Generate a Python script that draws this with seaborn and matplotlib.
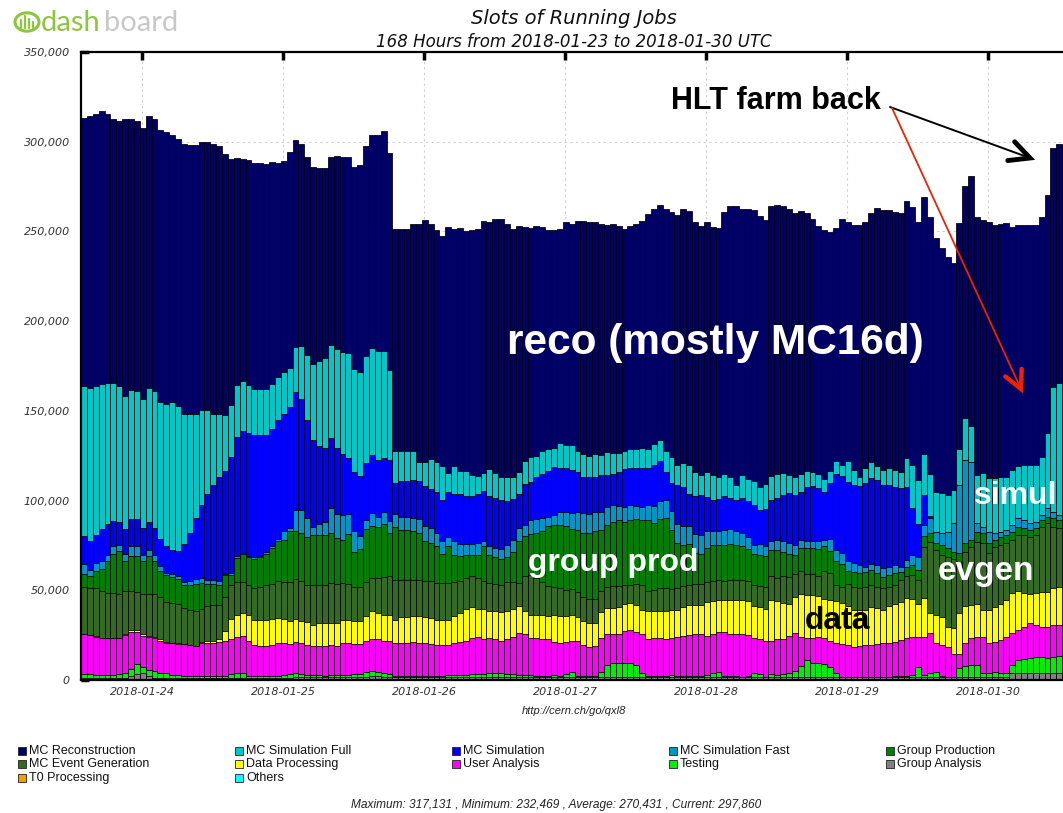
import numpy as np
import pandas as pd
import matplotlib
matplotlib.use("Agg")
import matplotlib.pyplot as plt
import seaborn as sns
from matplotlib.patches import Rectangle, Circle
from matplotlib.lines import Line2D

# ---------------- data (thousands of slots; stack tops) ----------------
hours = list(range(168))
day_labels = ["2018-01-24", "2018-01-25", "2018-01-26", "2018-01-27",
              "2018-01-28", "2018-01-29", "2018-01-30"]
day_tick_pos = [9.9, 33.9, 57.9, 81.9, 105.9, 129.9, 153.9]

# top of MC Reconstruction (= total running slots)
top_reco = [
    313.1,314.1,315.2,317.1,315.2,312.5,311.6,312.5,312.5,311.6,307.9,314.5,312.5,306.4,305.4,303.8,301.7,299.0,297.9,298.1,299.6,300.0,299.0,297.5,293.4,290.3,290.9,290.3,
    289.6,288.2,288.2,287.6,288.8,288.2,289.2,294.4,301.2,299.0,291.7,286.1,285.1,285.1,291.3,292.3,291.7,291.3,286.1,287.1,297.5,303.8,303.8,305.8,293.8,251.5,251.5,251.5,
    254.4,254.4,256.4,253.9,250.8,247.7,252.3,251.5,251.9,250.2,250.8,251.5,255.6,255.0,257.1,257.1,253.9,251.5,252.9,252.3,251.9,252.9,252.3,250.8,250.8,251.5,255.0,254.4,
    255.6,255.6,255.4,255.0,253.9,253.5,254.4,252.9,251.5,252.9,253.9,256.0,259.8,262.3,264.7,262.7,260.6,259.1,262.3,261.2,255.0,252.9,255.0,252.5,251.9,260.6,264.3,263.9,
    262.3,262.3,261.8,258.5,256.4,264.3,264.7,264.3,262.7,260.2,261.2,260.2,257.1,252.9,250.8,249.8,251.9,257.1,255.0,
    253.6,253.6,255.0,260.5,262.9,262.0,262.0,261.0,260.0,267.0,263.5,255.5,269.4,258.3,246.2,240.6,236.0,232.5,254.9,275.4,280.9,258.3,256.4,255.5,253.6,254.2,254.5,252.7,253.6,253.6,253.6,253.6,257.9,270.3,296.4,298.8,297.9]

top_simfull = [
    163.7,162.7,163.7,164.7,165.8,165.8,163.7,158.5,161.6,161.0,156.8,162.7,161.0,154.8,153.9,154.8,152.7,148.1,148.1,148.1,150.2,150.2,148.5,148.5,147.7,153.3,164.3,166.4,
    164.3,162.2,162.2,162.2,164.7,168.9,171.4,174.1,185.5,185.9,181.3,176.1,177.6,179.3,186.5,184.4,182.8,182.2,173.4,171.4,180.3,185.1,183.4,183.4,173.0,127.4,127.4,127.4,
    127.8,121.6,121.6,123.2,121.6,119.1,115.3,119.1,116.6,116.6,114.5,113.9,115.3,117.8,115.3,112.9,112.9,113.3,116.0,122.2,124.3,124.9,127.4,129.0,129.5,131.9,131.1,131.1,
    127.8,125.7,124.9,125.7,125.3,126.9,126.3,126.3,127.8,129.0,129.0,129.5,129.0,131.5,133.6,127.4,124.3,120.1,121.2,120.1,116.0,114.5,116.0,114.5,112.9,114.9,112.9,108.7,
    114.5,111.8,110.8,107.7,109.1,113.9,114.9,115.3,114.5,113.3,114.9,116.6,116.0,114.9,111.8,116.6,122.2,120.1,122.2,
    117.0,113.3,118.0,121.7,119.5,117.0,118.0,117.0,116.0,123.5,119.8,111.5,126.0,115.0,105.0,104.0,103.0,105.8,129.0,145.8,141.6,114.3,115.3,112.5,112.5,113.3,113.3,117.0,119.5,119.8,119.8,119.8,124.5,137.8,163.5,165.4,166.0]

top_sim = [
    80.1,77.6,80.7,84.2,86.9,88.4,87.9,84.2,90.0,90.0,84.8,87.9,84.8,78.6,74.5,72.4,71.8,75.9,82.1,90.4,97.3,103.5,108.7,113.3,116.4,124.3,135.3,138.8,
    137.8,136.7,136.7,136.7,139.8,145.0,148.5,151.9,160.6,156.8,145.0,134.0,130.5,129.5,135.1,129.5,125.7,123.6,116.0,113.9,121.2,125.3,122.8,123.6,122.8,109.7,110.7,110.7,
    111.2,110.8,108.3,106.6,105.0,100.4,105.0,103.5,103.5,102.5,102.5,103.5,105.6,102.5,101.4,100.4,100.0,100.8,103.5,109.1,110.4,113.3,114.9,116.6,118.7,118.0,118.0,117.0,
    116.0,113.3,112.9,113.3,114.5,114.5,114.9,116.0,117.4,118.0,118.0,118.0,118.0,120.1,122.2,116.0,109.7,108.7,107.7,103.5,102.5,102.9,102.1,100.4,100.8,102.5,101.4,100.4,
    101.4,100.0,97.3,94.6,95.2,100.4,101.4,102.9,104.1,102.9,104.5,107.7,108.3,107.0,104.5,109.7,114.9,113.9,110.4,
    108.7,108.0,109.6,112.4,111.5,108.7,108.7,107.8,106.9,107.8,95.7,87.0,103.1,91.4,82.7,81.8,82.7,87.3,108.7,122.6,121.7,87.3,85.4,82.7,81.8,82.7,83.6,86.4,90.1,89.2,87.3,88.2,92.0,95.7,93.8,92.0,92.0]

top_simfast = [
    64.7,61.4,65.1,66.2,69.7,74.9,75.5,70.3,74.9,74.5,69.7,72.4,69.7,63.5,59.9,58.9,57.9,54.7,55.2,56.4,56.8,55.8,55.8,55.2,59.3,59.9,68.9,70.9,
    68.9,68.3,68.9,71.4,74.5,78.6,82.8,84.8,94.6,94.6,90.4,85.5,86.9,88.0,95.6,92.5,92.1,92.5,82.8,80.1,89.0,93.1,91.1,93.8,88.4,92.5,90.6,90.6,
    90.4,89.6,85.9,84.8,82.1,77.6,79.7,77.6,75.9,75.9,75.9,76.5,77.6,74.5,73.4,73.0,75.5,78.0,84.8,86.3,89.0,90.0,90.4,91.1,92.1,93.8,93.8,93.1,
    93.8,93.1,92.5,93.8,93.8,96.3,97.3,96.7,96.3,97.3,96.7,96.3,97.3,96.7,100.0,100.4,94.2,86.9,85.9,85.9,81.3,80.7,82.8,82.8,82.8,83.4,84.2,82.8,
    81.7,79.7,75.5,75.9,74.5,77.2,78.0,77.6,76.5,75.5,78.0,77.6,77.6,77.2,78.0,78.6,72.4,70.9,66.2,
    65.4,64.1,63.2,64.9,64.1,62.2,63.2,64.1,63.2,66.9,69.7,68.8,86.4,90.1,82.7,81.8,82.7,87.3,108.7,122.6,121.7,87.3,85.4,82.7,81.8,82.7,83.6,86.4,90.1,89.2,87.3,88.2,92.0,95.7,93.8,92.0,92.0]

top_groupprod = [
    59.3,57.9,61.0,62.0,66.2,70.3,71.8,66.2,69.3,69.3,66.2,69.3,66.2,61.0,58.5,57.2,56.4,52.7,53.1,53.7,54.3,53.7,53.7,53.1,58.5,58.5,68.2,70.3,
    68.3,67.6,68.3,70.5,73.5,77.5,78.0,82.8,82.8,82.1,79.7,80.7,80.7,80.7,81.7,79.2,78.0,81.3,71.4,73.0,84.2,85.9,85.5,86.9,82.1,85.5,83.4,83.4,
    82.8,82.1,77.6,76.5,74.5,70.3,74.5,69.7,69.3,69.7,69.7,69.7,74.5,69.7,68.3,67.2,68.3,71.4,77.6,80.1,81.3,82.1,82.8,85.9,86.3,86.3,85.9,84.2,
    83.8,82.1,81.7,82.8,83.4,86.3,88.0,89.0,88.0,89.0,89.6,89.0,89.0,87.5,90.0,90.4,83.8,76.5,75.5,75.9,70.9,70.3,73.4,75.5,75.5,75.5,75.9,75.5,
    74.5,73.0,70.3,69.7,69.3,72.4,72.4,71.4,70.3,69.7,73.4,73.8,73.4,73.0,74.5,71.8,66.2,64.7,61.0,
    60.4,59.4,60.4,61.3,59.4,57.6,58.5,59.4,60.4,63.2,64.1,61.3,80.0,81.8,76.2,75.3,73.4,71.5,70.6,76.2,78.0,82.7,81.8,76.2,78.0,79.9,80.8,82.7,85.4,84.5,83.6,84.5,89.4,91.0,90.1,89.2,88.3]

top_evgen = [
    51.6,51.0,51.0,49.6,48.5,48.5,47.9,49.6,49.6,49.0,48.1,48.1,47.9,46.5,43.3,42.7,42.3,40.2,39.2,38.6,39.8,41.3,41.7,41.7,46.5,52.7,54.8,54.8,
    53.1,51.0,51.6,52.7,53.7,55.2,54.8,54.8,56.4,55.2,53.1,52.7,52.7,53.1,54.3,53.7,54.3,53.7,51.6,51.6,54.8,56.8,56.8,57.2,57.9,55.8,55.8,55.8,
    55.8,55.8,55.2,55.2,54.3,54.3,54.3,54.8,55.2,56.8,57.9,56.8,55.2,54.3,53.7,52.7,54.8,54.8,54.3,57.9,58.5,56.8,54.8,52.3,51.6,51.0,50.2,50.6,
    48.9,46.0,45.4,45.4,49.6,51.6,52.3,52.3,52.7,53.1,53.7,52.7,49.6,50.2,51.0,51.0,50.6,51.0,52.3,53.1,53.7,53.7,54.8,55.2,55.8,55.2,55.8,55.8,
    55.8,55.2,52.7,52.3,51.6,57.9,56.8,57.9,57.2,58.9,60.6,59.3,59.3,57.9,61.0,59.9,52.7,51.6,53.7,
    52.1,51.1,52.1,53.0,52.1,51.1,52.1,53.0,55.7,58.0,58.5,56.0,74.3,77.1,72.5,69.7,68.8,67.3,66.0,71.5,74.3,77.1,76.2,70.6,74.3,75.3,76.2,78.0,80.8,80.8,79.9,80.8,85.4,87.3,85.4,84.5,83.6]

top_data = [
    25.7,25.3,24.7,23.6,23.2,23.2,23.2,25.7,27.8,27.8,25.7,24.7,24.0,22.6,21.1,20.5,20.5,19.9,19.5,19.1,21.1,21.6,21.6,22.6,27.2,34.0,36.5,37.1,
    36.1,33.6,33.6,33.6,34.0,34.4,34.0,33.0,34.0,33.0,32.3,30.9,31.5,31.5,31.9,31.5,33.6,33.6,33.0,33.0,35.7,38.2,37.1,36.5,36.5,33.6,35.0,35.0,
    35.7,35.7,35.0,34.4,33.6,33.6,33.6,35.7,37.1,39.8,40.6,39.8,39.8,38.6,38.2,37.7,38.6,39.8,41.3,38.6,36.5,36.5,36.1,35.7,36.5,35.7,35.7,36.5,
    35.0,33.0,31.9,31.9,37.7,40.2,40.2,40.6,42.3,42.7,41.9,39.2,38.2,38.6,38.6,38.2,39.2,39.2,40.6,41.9,41.9,41.9,43.3,44.0,44.4,44.4,44.4,44.8,
    44.4,44.0,41.3,40.6,39.8,44.4,44.0,42.7,42.3,46.5,48.1,47.5,47.5,46.9,45.4,44.4,44.0,42.7,41.3,
    39.2,39.0,39.0,40.9,40.0,39.2,41.2,42.4,43.6,45.5,44.9,42.4,45.5,37.5,36.2,35.3,29.4,28.8,37.2,41.2,41.8,42.4,39.0,39.2,40.5,42.4,44.6,48.3,49.8,48.3,47.9,48.3,49.2,49.2,51.1,52.0,52.4]

top_user = [
    25.7,25.3,24.0,23.2,23.2,23.2,23.2,25.3,26.7,26.5,24.7,24.0,23.6,22.0,20.5,20.5,20.3,19.9,19.5,19.1,20.5,20.5,20.5,21.1,21.6,22.6,24.0,24.7,
    21.6,19.5,19.1,19.1,19.5,20.5,20.5,19.9,21.1,20.5,19.5,19.1,19.1,19.1,19.5,19.1,20.5,20.5,19.9,19.9,21.6,22.6,22.6,22.0,22.0,20.5,20.5,20.5,
    21.1,20.5,20.5,19.9,19.5,19.5,19.5,20.5,21.1,22.0,23.6,24.0,22.6,23.2,22.6,22.0,22.6,24.0,26.1,25.7,23.6,23.2,22.6,22.6,21.1,20.5,21.1,21.6,
    22.0,19.5,18.4,19.1,23.6,25.7,25.7,25.7,27.4,27.8,26.7,25.7,22.6,23.2,23.2,22.6,23.6,24.0,24.7,25.3,25.7,25.7,24.7,25.7,26.7,26.7,25.7,25.7,
    25.7,25.3,23.6,22.6,22.0,22.0,22.6,22.6,24.7,26.1,24.0,23.2,23.6,24.0,23.2,22.0,20.5,19.9,19.5,
    18.6,18.9,19.5,19.5,20.1,20.4,20.4,21.4,22.3,23.2,24.1,23.8,24.1,26.0,20.4,19.5,18.6,14.5,14.5,20.4,23.2,23.8,23.8,20.4,21.4,22.3,24.1,26.0,27.9,29.7,31.6,30.7,29.7,29.4,30.7,30.7,30.7]

top_testing = [
    3.3,3.3,2.9,2.9,2.9,2.9,3.3,3.9,6.0,8.7,7.1,5.4,5.0,3.9,3.7,2.9,2.9,2.3,2.3,2.3,2.3,2.5,2.5,2.3,2.5,3.3,3.7,3.7,
    2.5,2.3,2.3,2.3,2.3,2.3,2.9,3.5,3.9,3.3,2.9,2.7,2.7,2.5,2.7,2.7,2.7,2.7,3.1,3.5,4.5,5.0,4.2,3.7,3.3,2.5,2.5,2.5,
    2.5,2.5,2.3,2.3,2.3,2.5,2.7,2.7,2.7,2.9,3.3,3.5,3.5,3.7,3.9,3.9,3.5,3.3,2.9,2.9,2.7,2.5,2.5,2.5,2.7,2.5,3.3,4.5,
    2.3,2.5,2.5,2.5,4.5,8.1,9.5,9.5,9.5,9.5,8.1,4.0,2.5,2.5,2.5,2.5,2.9,2.5,2.3,2.3,2.3,2.3,2.9,3.7,4.5,2.5,2.3,2.3,
    1.8,2.5,3.9,3.3,1.8,3.3,2.9,3.3,3.9,5.0,8.0,11.2,9.5,9.5,9.1,7.0,3.9,1.8,1.8,
    1.8,1.8,1.8,1.8,1.8,1.8,1.8,2.2,2.2,2.2,2.8,7.4,2.8,3.7,4.6,2.2,1.8,1.8,6.5,7.8,8.4,8.4,3.7,4.1,4.6,3.7,4.1,8.4,11.1,11.5,12.1,12.6,13.0,12.1,13.0,13.4,13.0]

top_groupana = [
    1.0,1.0,1.0,1.0,1.0,1.0,1.0,1.2,2.2,3.6,3.8,2.0,1.2,1.0,1.0,1.0,1.0,1.0,1.0,1.0,1.0,1.0,1.0,1.0,1.0,1.0,1.0,1.0,
    1.0,1.0,1.0,1.0,1.0,1.0,1.0,1.0,1.6,1.6,1.6,1.6,1.6,1.6,1.6,1.6,1.6,1.6,1.6,1.6,1.6,2.4,2.4,1.6,1.6,1.6,1.6,1.6,
    1.6,1.6,1.6,1.6,1.6,1.6,1.6,1.6,1.6,1.6,1.6,1.6,1.6,1.6,1.6,1.6,1.6,1.6,1.6,1.6,1.6,1.6,1.6,1.6,1.6,1.6,1.6,1.6,
    1.5,1.5,1.5,1.5,1.5,1.5,1.5,1.5,1.5,1.5,1.5,1.5,1.5,1.5,1.5,1.5,1.5,1.5,1.5,1.5,1.5,1.5,1.5,1.5,1.5,1.5,1.5,1.5,
    1.5,1.5,1.5,1.5,1.5,1.5,1.5,1.5,1.5,1.5,1.5,1.5,1.5,1.5,1.5,1.5,1.5,1.5,1.5,
    1.4,1.4,1.4,1.4,1.4,1.4,1.4,1.4,1.4,1.4,1.4,1.4,1.4,1.4,1.4,1.4,1.4,1.4,1.4,1.4,1.4,1.4,1.4,1.4,1.4,1.4,1.4,3.8,3.8,3.8,3.8,3.8,3.8,3.8,3.8,3.8,3.8]

top_t0 = [
    0.6,0.6,0.6,0.6,0.6,0.6,0.6,0.6,0.6,0.6,0.6,0.6,0.6,0.6,0.6,0.6,0.6,0.6,0.6,0.6,0.6,0.6,0.6,0.6,0.6,0.6,0.6,0.6,
    0.6,0.6,0.6,0.6,0.6,0.6,0.6,0.6,0.6,0.6,0.6,0.6,0.6,0.6,0.6,0.6,0.6,0.6,0.6,0.6,0.6,0.6,0.6,0.6,0.6,0.6,0.6,0.6,
    0.4,0.4,0.4,0.4,0.4,0.4,0.4,0.4,0.4,0.4,0.4,0.4,0.4,0.4,0.4,0.4,0.4,0.4,0.4,0.4,0.4,0.4,0.4,0.4,0.4,0.4,0.4,0.4,
    0.3,0.3,0.3,0.3,0.3,0.3,0.3,0.3,0.3,0.3,0.3,0.3,0.3,0.3,0.3,0.3,0.3,0.3,0.3,0.3,0.3,0.3,0.3,0.3,0.3,0.3,0.3,0.3,
    0.3,0.3,0.3,0.3,0.3,0.3,0.3,0.3,0.3,0.3,0.3,0.3,0.3,0.3,0.3,0.3,0.3,0.3,0.3,
    0.3,0.3,0.3,0.3,0.3,0.3,0.3,0.3,0.3,0.3,0.3,0.3,0.3,0.3,0.3,0.3,0.3,0.3,0.3,0.3,0.3,0.3,0.3,0.3,0.3,0.3,0.3,0.3,0.3,0.3,0.3,0.3,0.3,0.3,0.3,0.3,0.3]

legend_names = ["MC Reconstruction", "MC Simulation Full", "MC Simulation", "MC Simulation Fast",
                "Group Production", "MC Event Generation", "Data Processing", "User Analysis",
                "Testing", "Group Analysis", "T0 Processing", "Others"]
legend_colors = ["#000066", "#00C8C8", "#0000FF", "#0096C8", "#007F00", "#336B22",
                 "#FFFF00", "#FF00FF", "#00EE00", "#808080", "#F0A000", "#00FFFF"]

# ---------------- figure ----------------
sns.set_style("white")
plt.rcParams['font.family'] = ['DejaVu Sans']

W, H = 1063, 813
fig = plt.figure(figsize=(W / 100, H / 100), dpi=100)
ax = fig.add_axes([81 / W, 1 - 680 / H, (1068 - 81) / W, 628 / H])


def fx(x):
    return x / W


def fy(y):
    return 1 - y / H


stack = [
    (top_reco, "#000066"),
    (top_simfull, "#00C8C8"),
    (top_sim, "#0000FF"),
    (top_simfast, "#0096C8"),
    (top_groupprod, "#007F00"),
    (top_evgen, "#336B22"),
    (top_data, "#FFFF00"),
    (top_user, "#FF00FF"),
    (top_testing, "#00EE00"),
    (top_groupana, "#808080"),
    (top_t0, "#C08000"),
]
for vals, col in stack:
    df = pd.DataFrame({"hour": hours, "slots": vals})
    sns.barplot(data=df, x="hour", y="slots", color=col, saturation=1, width=1.0,
                edgecolor="black", linewidth=0.55, errorbar=None, ax=ax, zorder=2)

ax.set_xlim(-0.5, 167.5)
ax.set_ylim(0, 350)
ax.set_xlabel("")
ax.set_ylabel("")

# grid
ax.set_axisbelow(True)
for yv in range(50, 350, 50):
    ax.axhline(yv, color="#cfcfcf", linestyle=(0, (2, 3)), linewidth=0.8, zorder=0)
for xv in day_tick_pos:
    ax.axvline(xv, color="#cfcfcf", linestyle=(0, (2, 3)), linewidth=0.8, zorder=0)

# ticks
ax.set_yticks(list(range(0, 351, 50)))
ax.set_yticklabels([f"{v * 1000:,}" for v in range(0, 351, 50)])
ax.set_xticks(day_tick_pos)
ax.set_xticklabels(day_labels)
ax.tick_params(axis="y", direction="in", length=6, width=2.5, color="black",
               labelsize=8, pad=8, labelcolor="#333333", left=True)
ax.tick_params(axis="x", direction="in", length=6, width=2.5, color="black",
               labelsize=8, pad=5, labelcolor="#333333", top=True, bottom=True)
for t in ax.get_xticklabels() + ax.get_yticklabels():
    t.set_fontstyle("italic")

for side in ["left", "top", "bottom"]:
    ax.spines[side].set_visible(True)
    ax.spines[side].set_color("black")
    ax.spines[side].set_linewidth(1.6)
ax.spines["right"].set_visible(False)

narrow = ["Liberation Sans", "DejaVu Sans"]

# titles
fig.text(fx(574), fy(18), "Slots of Running Jobs", ha="center", va="center",
         fontsize=14, fontstyle="italic", color="#111111")
fig.text(fx(574), fy(42), "168 Hours from 2018-01-23 to 2018-01-30 UTC", ha="center",
         va="center", fontsize=12, fontstyle="italic", color="#111111")
fig.text(fx(574), fy(711), "http://cern.ch/go/qxl8", ha="center", va="center",
         fontsize=8, fontstyle="italic", color="#222222", family=narrow)

# legend
col_x = [18, 235, 452, 669, 886]
row_y = [750.5, 764.3, 778.3]
for i, (name, col) in enumerate(zip(legend_names, legend_colors)):
    r, c = divmod(i, 5)
    x0, y0 = col_x[c], row_y[r]
    fig.patches.append(Rectangle((fx(x0), fy(y0 + 4)), 7.5 / W, 8 / H, transform=fig.transFigure,
                                 facecolor=col, edgecolor="#222222", linewidth=0.6))
    fig.text(fx(x0 + 11), fy(y0), name, ha="left", va="center", fontsize=9,
             color="#111111", family=narrow)

fig.text(fx(556), fy(805),
         "Maximum: 317,131 , Minimum: 232,469 , Average: 270,431 , Current: 297,860",
         ha="center", va="center", fontsize=8.6, fontstyle="italic", color="#222222",
         family=narrow)

# logo
fig.patches.append(Circle((fx(27), fy(22)), 12 / W, transform=fig.transFigure,
                          facecolor="none", edgecolor="#8CC63E", linewidth=2.2))
for bx, bh in [(21, 8), (25, 12), (29, 9), (33, 6)]:
    fig.add_artist(Line2D([fx(bx), fx(bx)], [fy(28), fy(28 - bh)], color="#8CC63E",
                          linewidth=1.6, transform=fig.transFigure))
fig.text(fx(41), fy(23), "dash", ha="left", va="center", fontsize=21, color="#8CC63E",
         family=["Lato", "DejaVu Sans"])
fig.text(fx(104), fy(23), "board", ha="left", va="center", fontsize=21, color="#C8C8C8",
         family=["Lato", "DejaVu Sans"])

# annotations
bold = ["Liberation Sans", "DejaVu Sans"]
fig.text(fx(776), fy(101), "HLT farm back", ha="center", va="center", fontsize=22,
         fontweight="bold", color="black", family=bold)
fig.text(fx(715), fy(343), "reco (mostly MC16d)", ha="center", va="center", fontsize=30.5,
         fontweight="bold", color="white", family=bold)
fig.text(fx(613), fy(563), "group prod", ha="center", va="center", fontsize=23,
         fontweight="bold", color="white", family=bold)
fig.text(fx(1016), fy(496), "simul", ha="center", va="center", fontsize=23,
         fontweight="bold", color="white", family=bold)
fig.text(fx(986), fy(571), "evgen", ha="center", va="center", fontsize=24,
         fontweight="bold", color="white", family=bold)
fig.text(fx(837), fy(621), "data", ha="center", va="center", fontsize=23,
         fontweight="bold", color="black", family=bold)


def arrow(p0, p1, color, lw_shaft, lw_head, L, w):
    (x0, y0), (x1, y1) = p0, p1
    fig.add_artist(Line2D([fx(x0), fx(x1)], [fy(y0), fy(y1)], color=color,
                          linewidth=lw_shaft, transform=fig.transFigure))
    d = np.array([x1 - x0, y1 - y0], dtype=float)
    d /= np.hypot(*d)
    n = np.array([-d[1], d[0]])
    tip = np.array([x1, y1])
    a = tip - L * d + w * n
    b = tip - L * d - w * n
    fig.add_artist(Line2D([fx(a[0]), fx(tip[0]), fx(b[0])], [fy(a[1]), fy(tip[1]), fy(b[1])],
                          color=color, linewidth=lw_head, solid_capstyle="round",
                          solid_joinstyle="miter", transform=fig.transFigure))


arrow((890, 107), (1030, 158), "black", 1.4, 3.5, 20, 10)
arrow((892, 108), (1021, 389), "#EE2200", 1.3, 3.2, 18, 9)

fig.savefig("out.png", dpi=100)
